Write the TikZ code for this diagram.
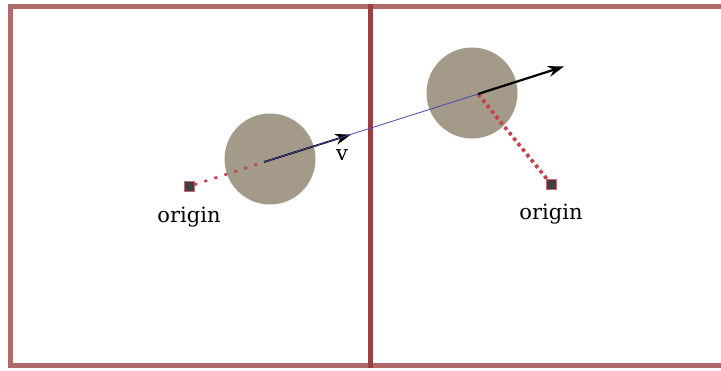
\documentclass[tikz,border=0pt]{standalone}
\usepackage{fontspec}
\setmainfont{DejaVu Serif}
\usetikzlibrary{arrows.meta,positioning}

\begin{document}
\begin{tikzpicture}[x=1pt, y=-1pt]
    % Define colours
    \definecolor{frameColour}{RGB}{145,48,48}
    \definecolor{ballColour}{RGB}{163,154,138}
    \definecolor{originFill}{RGB}{64,64,64}
    \definecolor{originBorder}{RGB}{200,110,110}
    \definecolor{pathColour}{RGB}{200,64,72}
    \definecolor{lineColour}{RGB}{70,70,175}

    % Define styles
    \tikzset{
        frame/.style={draw=frameColour, line width=5pt, draw opacity=0.72},
        ball/.style={circle, fill=ballColour, minimum size=91pt, inner sep=0pt},
        origin/.style={rectangle, fill=originFill, draw=originBorder, line width=0.8pt, minimum size=10pt, inner sep=0pt},
        tag/.style={font=\fontsize{21}{25}\selectfont, inner sep=0pt},
        velocity/.style={-{Stealth[length=16pt,width=11pt]}, line width=1.8pt},
        offset/.style={pathColour, line width=2.6pt}
    }

    \useasboundingbox (0,0) rectangle (721,370);
    \clip (0,0) rectangle (721,370);

    % Draw frames
    \draw[frame] (10,6) rectangle (370,365);
    \draw[frame] (370,6) rectangle (760,365);

    % Draw balls
    \node[ball] (ballL) at (270,159) {};
    \node[ball] (ballR) at (472,93) {};

    % Define coordinates for the velocity vectors
    \coordinate (startL) at (264,162);
    \coordinate (tipL) at (351,134.5);
    \coordinate (startR) at (478,94);
    \coordinate (tipR) at (564,66.5);

    % Draw origins and their labels
    \node[origin] (originL) at (189,186.5) {};
    \node[tag, below=15pt of originL] (labelL) {origin};
    \node[origin] (originR) at (551,184) {};
    \node[tag, below=14pt of originR] (labelR) {origin};

    % Draw offsets from origin to ball
    \draw[offset, dash pattern=on 3pt off 7.5pt] (originL) -- (startL);
    \draw[offset, line width=3.6pt, dash pattern=on 3.5pt off 3.5pt] (originR) -- (startR);

    % Draw velocity vectors
    \draw[velocity] (startL) -- (tipL);
    \draw[velocity, line width=2.2pt] (startR) -- (tipR);

    % Draw displacement line
    \draw[lineColour, line width=0.8pt] (startL) -- (startR);

    % Label the velocity
    \node[tag] (vLabel) at (342,155) {v};

\end{tikzpicture}
\end{document}
